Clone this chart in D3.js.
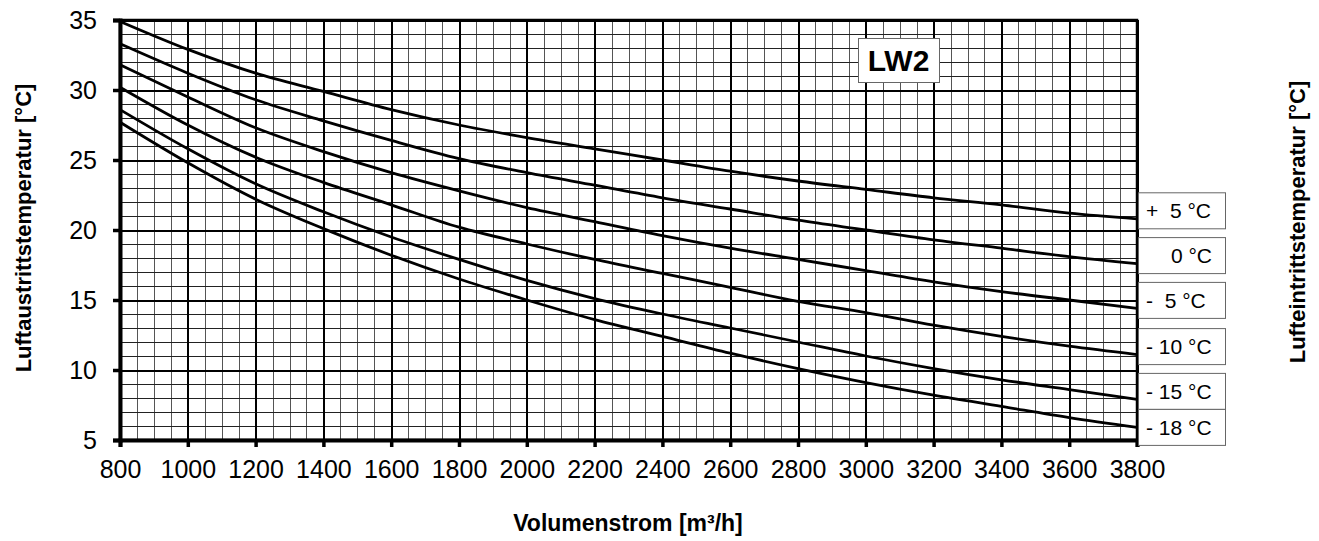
<!DOCTYPE html>
<html>
<head>
<meta charset="utf-8">
<script src="https://cdn.jsdelivr.net/npm/d3@7"></script>
<style>
body { margin: 0; background: #fff; }
svg { display: block; font-family: "Liberation Sans", Arial, sans-serif; }
</style>
</head>
<body>
<svg width="1319" height="541"></svg>
<script>
// Volumenstrom values (x) and outlet temperature per inlet temperature curve
const flow = [800, 1000, 1200, 1400, 1600, 1800, 2000, 2200, 2400, 2600, 2800, 3000, 3200, 3400, 3600, 3800];
const tPlus5  = [34.9, 32.9, 31.2, 29.9, 28.6, 27.5, 26.6, 25.8, 25.0, 24.2, 23.5, 22.9, 22.3, 21.8, 21.2, 20.8];
const tZero   = [33.3, 31.2, 29.3, 27.8, 26.4, 25.1, 24.1, 23.2, 22.3, 21.5, 20.7, 20.0, 19.3, 18.7, 18.1, 17.6];
const tMinus5 = [31.8, 29.5, 27.3, 25.6, 24.1, 22.8, 21.6, 20.6, 19.6, 18.7, 17.9, 17.1, 16.3, 15.6, 15.0, 14.4];
const tMinus10 = [30.2, 27.5, 25.2, 23.4, 21.8, 20.2, 19.0, 17.9, 16.9, 15.9, 14.9, 14.1, 13.2, 12.4, 11.7, 11.1];
const tMinus15 = [28.6, 25.8, 23.3, 21.3, 19.5, 17.9, 16.4, 15.1, 14.0, 13.0, 12.0, 11.0, 10.1, 9.3, 8.6, 7.9];
const tMinus18 = [27.7, 24.8, 22.2, 20.1, 18.2, 16.5, 15.0, 13.6, 12.4, 11.2, 10.1, 9.1, 8.2, 7.4, 6.6, 5.9];
const curveLabels = ["+  5 °C", "0 °C", "-  5 °C", "- 10 °C", "- 15 °C", "- 18 °C"];
const xTicks = [800, 1000, 1200, 1400, 1600, 1800, 2000, 2200, 2400, 2600, 2800, 3000, 3200, 3400, 3600, 3800];
const yTicks = [5, 10, 15, 20, 25, 30, 35];

const series = [tPlus5, tZero, tMinus5, tMinus10, tMinus15, tMinus18].map((vals, i) => ({
  label: curveLabels[i],
  values: vals.map((v, j) => ({x: flow[j], y: v}))
}));

const svg = d3.select("svg");
const m = {left: 120, right: 1137, top: 20, bottom: 440};

const x = d3.scaleLinear().domain([800, 3800]).range([m.left, m.right]);
const y = d3.scaleLinear().domain([5, 35]).range([m.bottom, m.top]);

// minor grid
const grid = svg.append("g").attr("shape-rendering", "crispEdges");
grid.append("g")
  .attr("transform", "translate(0," + m.bottom + ")")
  .call(d3.axisBottom(x).tickValues(d3.range(800, 3801, 50)).tickSize(-(m.bottom - m.top)).tickFormat(""))
  .call(g => g.select(".domain").remove())
  .call(g => g.selectAll("line").attr("stroke", "#555").attr("stroke-width", 1));
grid.append("g")
  .attr("transform", "translate(" + m.left + ",0)")
  .call(d3.axisLeft(y).tickValues(d3.range(5, 35.1, 1)).tickSize(-(m.right - m.left)).tickFormat(""))
  .call(g => g.select(".domain").remove())
  .call(g => g.selectAll("line").attr("stroke", "#222").attr("stroke-width", 1));

// major grid
grid.append("g")
  .attr("transform", "translate(0," + m.bottom + ")")
  .call(d3.axisBottom(x).tickValues(xTicks).tickSize(-(m.bottom - m.top)).tickFormat(""))
  .call(g => g.select(".domain").remove())
  .call(g => g.selectAll("line").attr("stroke", "#000").attr("stroke-width", 2));
grid.append("g")
  .attr("transform", "translate(" + m.left + ",0)")
  .call(d3.axisLeft(y).tickValues(yTicks).tickSize(-(m.right - m.left)).tickFormat(""))
  .call(g => g.select(".domain").remove())
  .call(g => g.selectAll("line").attr("stroke", "#000").attr("stroke-width", 2));

// curves
const line = d3.line().x(d => x(d.x)).y(d => y(d.y)).curve(d3.curveMonotoneX);
svg.append("g").selectAll("path")
  .data(series)
  .enter().append("path")
  .attr("d", d => line(d.values))
  .attr("fill", "none")
  .attr("stroke", "#000")
  .attr("stroke-width", 2.8);

// frame
svg.append("rect")
  .attr("x", m.left).attr("y", m.top)
  .attr("width", m.right - m.left).attr("height", m.bottom - m.top)
  .attr("fill", "none").attr("stroke", "#000").attr("stroke-width", 2.5);

// axes
const yAxis = svg.append("g")
  .attr("transform", "translate(" + m.left + ",0)")
  .call(d3.axisLeft(y).tickValues(yTicks).tickSize(7).tickPadding(16));
yAxis.select(".domain").attr("stroke-width", 4);
yAxis.selectAll("line").attr("stroke-width", 3.5);
yAxis.selectAll("text").attr("font-size", 25).attr("font-family", "Liberation Sans, Arial, sans-serif").attr("fill", "#000");

const xAxis = svg.append("g")
  .attr("transform", "translate(0," + m.bottom + ")")
  .call(d3.axisBottom(x).tickValues(xTicks).tickFormat(d3.format("d")).tickSize(7).tickPadding(13));
xAxis.select(".domain").attr("stroke-width", 4);
xAxis.selectAll("line").attr("stroke-width", 3.5);
xAxis.selectAll("text").attr("font-size", 25).attr("font-family", "Liberation Sans, Arial, sans-serif").attr("fill", "#000");

// legend boxes near curve ends
let prevBottom = 0;
const boxH = 36;
series.forEach((s, i) => {
  const endY = y(s.values[s.values.length - 1].y);
  let boxTop = endY - 8 - boxH / 2;
  if (boxTop < prevBottom) boxTop = prevBottom;
  prevBottom = boxTop + boxH;
  const g = svg.append("g");
  g.append("rect")
    .attr("x", 1138.5).attr("y", boxTop)
    .attr("width", 87).attr("height", boxH)
    .attr("fill", "#fff").attr("stroke", "#666").attr("stroke-width", 1);
  g.append("text")
    .attr("x", s.label === "0 °C" ? 1212 : 1146)
    .attr("y", boxTop + boxH / 2 + 7.5)
    .attr("text-anchor", s.label === "0 °C" ? "end" : "start")
    .attr("font-size", 21)
    .style("white-space", "pre")
    .text(s.label);
});

// LW2 box
svg.append("rect")
  .attr("x", 858.5).attr("y", 38.5).attr("width", 81).attr("height", 44)
  .attr("fill", "#fff").attr("stroke", "#666").attr("stroke-width", 1);
svg.append("text")
  .attr("x", 898.5).attr("y", 71)
  .attr("text-anchor", "middle")
  .attr("font-size", 30).attr("font-weight", "bold")
  .text("LW2");

// axis titles
svg.append("text")
  .attr("transform", "translate(31,228) rotate(-90)")
  .attr("text-anchor", "middle")
  .attr("font-size", 22).attr("font-weight", "bold")
  .text("Luftaustrittstemperatur [°C]");
svg.append("text")
  .attr("transform", "translate(1305,222) rotate(-90)")
  .attr("text-anchor", "middle")
  .attr("font-size", 22).attr("font-weight", "bold")
  .text("Lufteintrittstemperatur [°C]");
svg.append("text")
  .attr("x", 628).attr("y", 531)
  .attr("text-anchor", "middle")
  .attr("font-size", 23).attr("font-weight", "bold")
  .text("Volumenstrom [m³/h]");
</script>
</body>
</html>
